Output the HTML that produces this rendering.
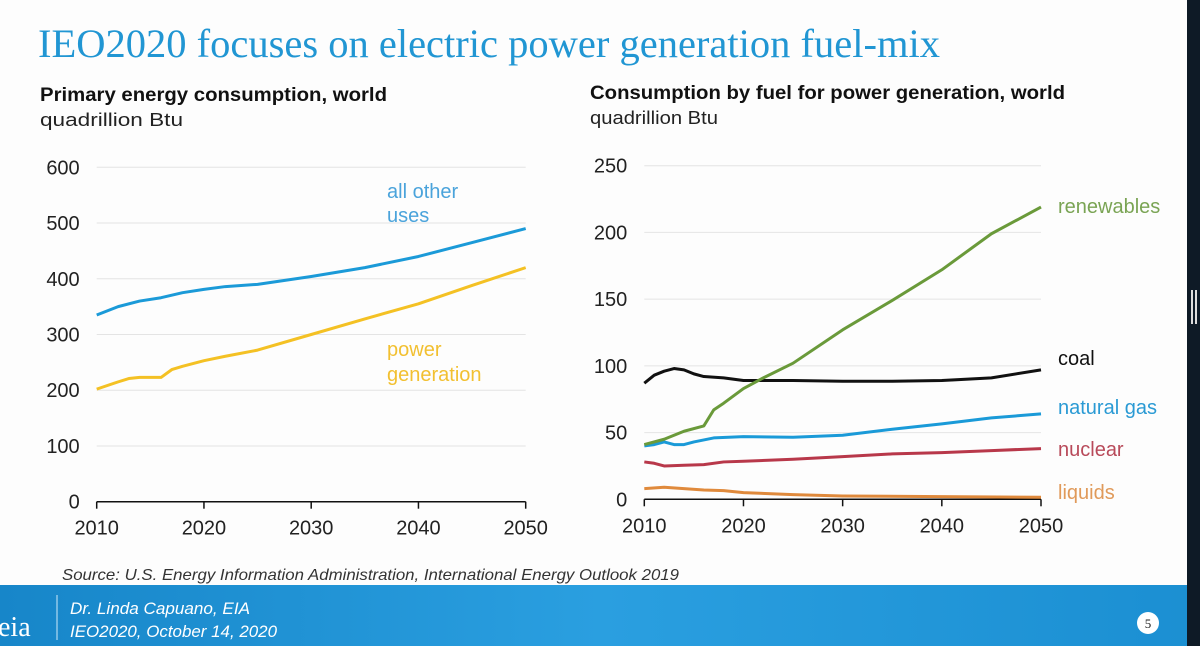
<!DOCTYPE html>
<html><head><meta charset="utf-8"><style>
body{margin:0;width:1200px;height:646px;overflow:hidden;background:#fff;font-family:"Liberation Sans",sans-serif;}
</style></head><body>
<svg width="1200" height="646" xmlns="http://www.w3.org/2000/svg">
<defs><linearGradient id="fg" x1="0" x2="1" y1="0" y2="0"><stop offset="0" stop-color="#1786c9"/><stop offset="0.5" stop-color="#2a9fe0"/><stop offset="1" stop-color="#1b8fd2"/></linearGradient></defs>
<rect x="0" y="0" width="1200" height="646" fill="#fdfdfd"/>
<text x="38" y="57" font-family="Liberation Serif,serif" font-size="40" textLength="902" lengthAdjust="spacingAndGlyphs" fill="#2196d3">IEO2020 focuses on electric power generation fuel-mix</text>
<text x="40" y="101" font-size="19" font-weight="bold" textLength="347" lengthAdjust="spacingAndGlyphs" fill="#111">Primary energy consumption, world</text>
<text x="40" y="126" font-size="18" textLength="143" lengthAdjust="spacingAndGlyphs" fill="#222">quadrillion Btu</text>
<text x="590" y="99" font-size="19" font-weight="bold" textLength="475" lengthAdjust="spacingAndGlyphs" fill="#111">Consumption by fuel for power generation, world</text>
<text x="590" y="124" font-size="18" textLength="128" lengthAdjust="spacingAndGlyphs" fill="#222">quadrillion Btu</text>
<g id="left"></g><g id="right"></g>
<text x="62" y="580" font-size="16" font-style="italic" textLength="617" lengthAdjust="spacingAndGlyphs" fill="#333">Source: U.S. Energy Information Administration, International Energy Outlook 2019</text>
<rect x="0" y="585" width="1200" height="61" fill="url(#fg)"/>
<text x="-2" y="636" font-family="Liberation Serif,serif" font-size="28" fill="#fff">eia</text>
<line x1="57" y1="595" x2="57" y2="640" stroke="#cfe9f8" stroke-width="1"/>
<text x="70" y="614" font-size="17" font-style="italic" textLength="180" lengthAdjust="spacingAndGlyphs" fill="#fff">Dr. Linda Capuano, EIA</text>
<text x="70" y="637" font-size="17" font-style="italic" textLength="207" lengthAdjust="spacingAndGlyphs" fill="#fff">IEO2020, October 14, 2020</text>
<circle cx="1148" cy="623" r="11" fill="#fff"/>
<text x="1148" y="628" font-family="Liberation Serif,serif" font-size="13" text-anchor="middle" fill="#222">5</text>
<rect x="1187" y="0" width="13" height="646" fill="#0e1a26"/>
<rect x="1191" y="290" width="2" height="34" fill="#ddd"/><rect x="1195" y="290" width="2" height="34" fill="#ddd"/>
</svg>
<script>
const yearTicks=[2010,2020,2030,2040,2050];
const leftYTicks=[0,100,200,300,400,500,600];
const leftYears=[2010,2012,2014,2016,2018,2020,2022,2025,2030,2035,2040,2045,2050];
const otherUses=[335,350,360,366,375,381,386,390,404,420,440,465,490];
const powerYears=[2010,2012,2013,2014,2016,2017,2018,2020,2022,2025,2030,2035,2040,2045,2050];
const powerGen=[202,215,221,223,223,237,243,253,261,272,300,328,355,388,420];
const rightYTicks=[0,50,100,150,200,250];
const renYears=[2010,2012,2014,2016,2017,2018,2020,2022,2025,2030,2035,2040,2045,2050];
const renewables=[41,45,51,55,67,72,83,91,102,127,149,172,199,219];
const coalYears=[2010,2011,2012,2013,2014,2015,2016,2018,2020,2025,2030,2035,2040,2045,2050];
const coal=[87,93,96,98,97,94,92,91,89,89,88.5,88.5,89,91,97];
const gasYears=[2010,2011,2012,2013,2014,2015,2017,2020,2025,2030,2035,2040,2045,2050];
const gas=[40,41,43,41,41,43,46,47,46.5,48,52.5,56.5,61,64];
const nucYears=[2010,2011,2012,2014,2016,2018,2020,2025,2030,2035,2040,2045,2050];
const nuclear=[28,27,25,25.5,26,28,28.5,30,32,34,35,36.5,38];
const liqYears=[2010,2012,2014,2016,2018,2020,2025,2030,2040,2050];
const liquids=[8,9,8,7,6.5,5,3.5,2.5,2,1.5];
const NS="http://www.w3.org/2000/svg";
function mk(p,t,a){const e=document.createElementNS(NS,t);for(const k in a)e.setAttribute(k,a[k]);p.appendChild(e);return e;}
function chart(g,x0,x1,y0,y1,ymax,yt,name){
  const sx=v=>x0+(v-2010)/40*(x1-x0), sy=v=>y0-(v/ymax)*(y0-y1);
  yt.forEach(t=>{
    if(t>0){const l=mk(g,'line',{x1:x0,x2:x1,y1:sy(t),y2:sy(t),stroke:'#e4e4e4','stroke-width':1});
    
    }
    const tx=mk(g,'text',{x:x0-17,y:sy(t)+7,'font-size':20,'text-anchor':'end',fill:'#222'});tx.textContent=t;
    
    
  });
  const ax=mk(g,'line',{x1:x0,x2:x1,y1:y0,y2:y0,stroke:'#111','stroke-width':1.5});
  
  
  yearTicks.forEach(t=>{
    mk(g,'line',{x1:sx(t),x2:sx(t),y1:y0,y2:y0+7,stroke:'#111','stroke-width':1.5});
    const tx=mk(g,'text',{x:sx(t),y:y0+33,'font-size':20,'text-anchor':'middle',fill:'#222'});tx.textContent=t;
    
    
  });
  return (xs,ys,col,sn)=>{
    const p=mk(g,'polyline',{points:xs.map((x,i)=>sx(x)+','+sy(ys[i])).join(' '),fill:'none',stroke:col,'stroke-width':3,'stroke-linejoin':'round'});
    
    
  };
}
function label(g,x,y,txt,col,n){const t=mk(g,'text',{x:x,y:y,'font-size':20,fill:col});t.textContent=txt;
  
  }
const L=document.getElementById('left'),R=document.getElementById('right');
const dl=chart(L,96.7,525.7,501.7,167.3,600,leftYTicks,'left');
dl(otherUses.map((v,i)=>leftYears[i]),otherUses,'#1b9ad8','all-other-uses');
dl(powerYears,powerGen,'#f4c124','power-generation');
label(L,387,198,'all other','#4aa3db','label-all-other-uses');label(L,387,222,'uses','#4aa3db','label-all-other-uses-2');
label(L,387,356,'power','#f2c031','label-power-generation');label(L,387,381,'generation','#f2c031','label-power-generation-2');
const dr=chart(R,644.3,1041,499.3,165.7,250,rightYTicks,'right');
dr(liqYears,liquids,'#e08a3c','liquids');
dr(nucYears,nuclear,'#b8384a','nuclear');
dr(gasYears,gas,'#1a9ad8','natural-gas');
dr(coalYears,coal,'#111','coal');
dr(renYears,renewables,'#6a9a3a','renewables');
label(R,1058,213,'renewables','#7aa454','label-renewables');
label(R,1058,365,'coal','#111','label-coal');
label(R,1058,414,'natural gas','#2a9ad4','label-natural-gas');
label(R,1058,456,'nuclear','#b84a5a','label-nuclear');
label(R,1058,499,'liquids','#e09a5a','label-liquids');
</script>
</body></html>
